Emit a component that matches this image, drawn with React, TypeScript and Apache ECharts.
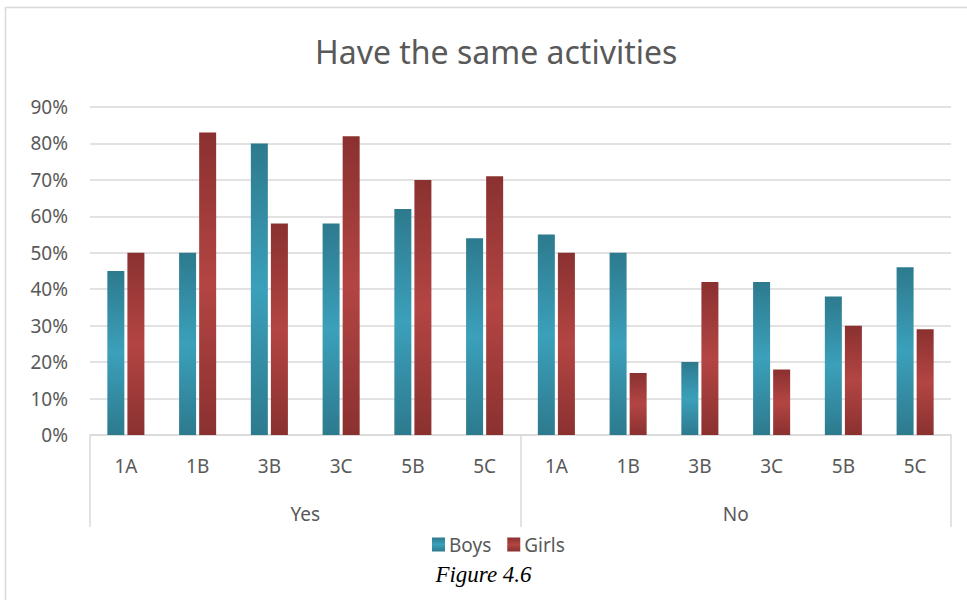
import React, { useEffect, useRef } from "react";
import * as echarts from "echarts";

const classes = ["1A", "1B", "3B", "3C", "5B", "5C", "1A", "1B", "3B", "3C", "5B", "5C"];
const groups = ["Yes", "No"];
const boys = [45, 50, 80, 58, 62, 54, 55, 50, 20, 42, 38, 46];
const girls = [50, 83, 58, 82, 70, 71, 50, 17, 42, 18, 30, 29];
const titleText = "Have the same activities";
const captionText = "Figure 4.6";

const FONT = "'Noto Sans', sans-serif";
const GRAY = "#595959";
const LINE = "#d9d9d9";

function grad(dark: string, light: string) {
  return new echarts.graphic.LinearGradient(0, 0, 0, 1, [
    { offset: 0, color: dark },
    { offset: 0.5, color: light },
    { offset: 1, color: dark },
  ]);
}

export default function App() {
  const ref = useRef<HTMLDivElement>(null);
  useEffect(() => {
    if (!ref.current) return;
    const chart = echarts.init(ref.current, null, { renderer: "svg" });
    chart.setOption({
      animation: false,
      backgroundColor: "#ffffff",
      title: {
        text: titleText,
        left: 310,
        top: 30,
        textStyle: { fontFamily: FONT, fontSize: 32, fontWeight: "normal", color: GRAY },
      },
      legend: {
        data: ["Boys", "Girls"],
        top: 530,
        left: 427,
        itemWidth: 13,
        itemHeight: 14,
        itemGap: 16,
        icon: "rect",
        textStyle: { fontFamily: FONT, fontSize: 19, color: GRAY, padding: [0, 0, 0, -1] },
      },
      grid: { left: 90, right: 16, top: 107, bottom: 165 },
      xAxis: [
        {
          type: "category",
          data: classes,
          position: "bottom",
          axisLine: { show: true, lineStyle: { color: LINE, width: 1.5 } },
          axisTick: { show: false },
          axisLabel: { margin: 21, fontFamily: FONT, fontSize: 19, color: GRAY, interval: 0 },
        },
        {
          type: "category",
          data: groups,
          position: "bottom",
          axisLine: { show: false },
          axisTick: { show: true, length: 92, interval: 0, lineStyle: { color: LINE, width: 1.5 } },
          axisLabel: { margin: 69, fontFamily: FONT, fontSize: 19, color: GRAY, interval: 0 },
        },
      ],
      yAxis: {
        type: "value",
        min: 0,
        max: 90,
        interval: 10,
        axisLine: { show: false },
        axisTick: { show: false },
        axisLabel: { formatter: "{value}%", margin: 22, fontFamily: FONT, fontSize: 19, color: GRAY },
        splitLine: { lineStyle: { color: LINE, width: 1.5 } },
      },
      series: [
        {
          name: "Boys",
          type: "bar",
          xAxisIndex: 0,
          data: boys,
          barWidth: 17,
          barGap: "18%",
          itemStyle: { color: grad("#2d7a8e", "#3ba0ba") },
        },
        {
          name: "Girls",
          type: "bar",
          xAxisIndex: 0,
          data: girls,
          barWidth: 17,
          barGap: "18%",
          itemStyle: { color: grad("#8a3130", "#b34543") },
        },
      ],
      graphic: [
        {
          type: "rect",
          shape: { x: 5.5, y: 7.5, width: 980, height: 620 },
          style: { fill: "none", stroke: LINE, lineWidth: 1.5 },
          silent: true,
        },
        {
          type: "text",
          left: "center",
          top: 563,
          style: {
            text: captionText,
            font: "italic 23px 'Liberation Serif', 'Times New Roman', serif",
            fill: "#000000",
          },
        },
      ],
    });
    return () => chart.dispose();
  }, []);
  return (
    <div
      ref={ref}
      style={{ position: "absolute", left: 0, top: 0, width: 967, height: 600 }}
    />
  );
}
